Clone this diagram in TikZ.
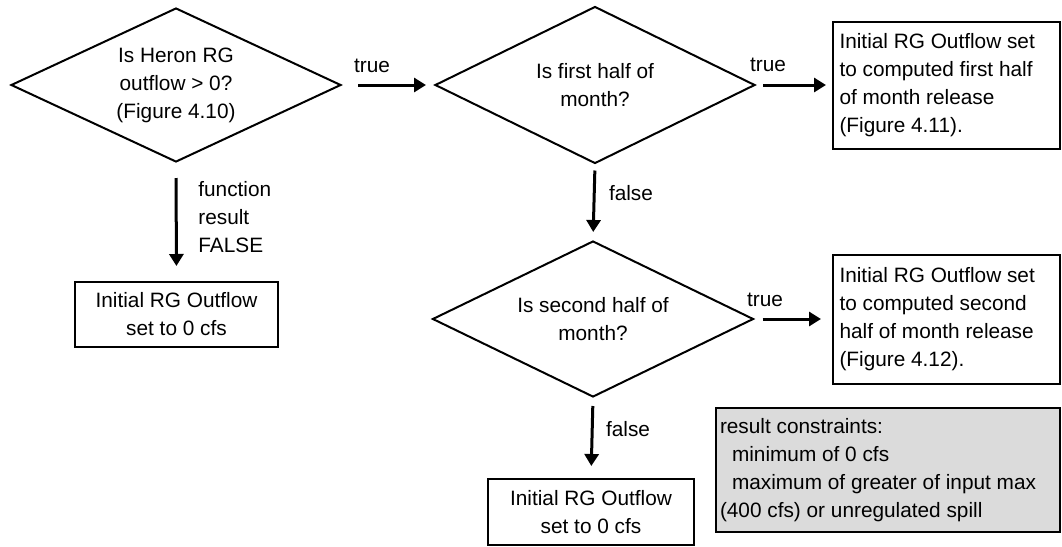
\documentclass[tikz,border=0pt]{standalone}
\usepackage{fontspec}
\setmainfont{Liberation Sans}
\usetikzlibrary{shapes.geometric,arrows.meta}

\begin{document}
\begin{tikzpicture}[x=0.5pt,y=-0.5pt,
  font=\fontsize{10.4pt}{14pt}\selectfont,
  decision/.style 2 args={draw,line width=1pt,diamond,aspect=2,inner sep=0pt,
    align=center,minimum width=#1,minimum height=#2},
  stepbox/.style 2 args={draw,line width=1pt,rectangle,inner sep=0pt,
    minimum width=#1,minimum height=#2},
  notebox/.style 2 args={stepbox={#1}{#2},fill=black!14},
  flow/.style={line width=1.5pt,-{Triangle[length=6pt,width=7pt]}},
  lbl/.style={inner sep=0pt}]

\useasboundingbox (0,0) rectangle (1062,547);

% decisions
\node[decision={165pt}{77pt}] (d1) at (176,85) {Is Heron RG\\outflow > 0?\\(Figure 4.10)};
\node[decision={160pt}{78.5pt}] (d2) at (595,85) {Is first half of\\month?};
\node[decision={160.5pt}{78pt}] (d3) at (593,319) {Is second half of\\month?};

% outcome boxes
\node[stepbox={101.5pt}{32.5pt},align=center] (b1) at (176.5,314.5)
  {Initial RG Outflow\\set to 0 cfs};
\node[stepbox={113.5pt}{63.5pt}] (b3) at (946.5,85)
  {\begin{minipage}{107pt}\raggedright
   Initial RG Outflow set\\to computed first half\\of month release\\(Figure 4.11).\end{minipage}};
\node[stepbox={113.5pt}{64.5pt}] (b4) at (946.5,319)
  {\begin{minipage}{107pt}\raggedright
   Initial RG Outflow set\\to computed second\\half of month release\\(Figure 4.12).\end{minipage}};
\node[stepbox={103pt}{33pt},align=center] (b5) at (591,512)
  {Initial RG Outflow\\set to 0 cfs};

% constraint note
\node[notebox={172pt}{62pt}] (note) at (888,470)
  {\begin{minipage}{168pt}\raggedright
   result constraints:\\
   \hspace*{6pt}minimum of 0 cfs\\
   \hspace*{6pt}maximum of greater of input max\\
   (400 cfs) or unregulated spill\end{minipage}};

% connectors
\draw[flow,shorten <=8pt,shorten >=4pt] (d1.east) -- (d2.west);
\draw[flow,shorten <=7.5pt,shorten >=7.5pt] (d1.south) -- (b1.north);
\draw[flow,shorten <=3.5pt,shorten >=3pt] (d2.east) -- (b3.west);
\draw[flow,shorten <=3pt,shorten >=4pt] (d2.south) -- (d3.north);
\draw[flow,shorten <=4pt,shorten >=5.5pt] (d3.east) -- (b4.west);
\draw[flow,shorten <=4pt,shorten >=6pt] (d3.south) -- (b5.north);

% connector labels
\node[lbl] (t1) at (372,66) {true};
\node[lbl] (t2) at (768,65) {true};
\node[lbl] (t3) at (765,300) {true};
\node[lbl,anchor=west,align=left] (f1) at (198,217) {function\\result\\FALSE};
\node[lbl] (f2) at (631,193) {false};
\node[lbl] (f3) at (628,429) {false};
\end{tikzpicture}
\end{document}
